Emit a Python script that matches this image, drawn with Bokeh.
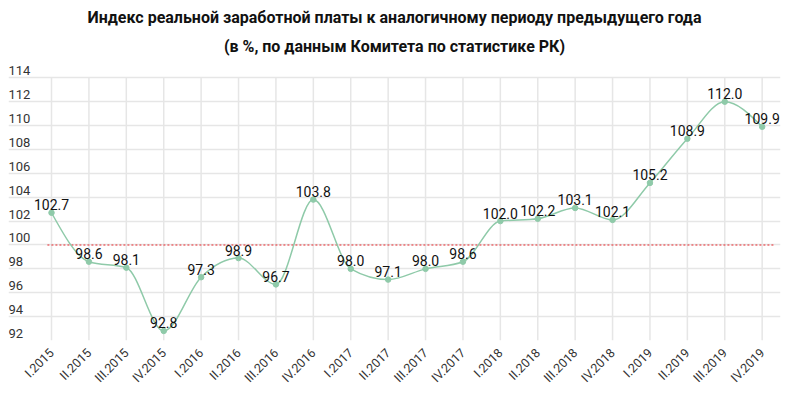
import numpy as np
from bokeh.plotting import figure
from bokeh.models import ColumnDataSource, FixedTicker, LabelSet, Range1d, Title
from bokeh.core.properties import value
from bokeh.embed import file_html
from bokeh.resources import INLINE

categories = ["I.2015", "II.2015", "III.2015", "IV.2015",
              "I.2016", "II.2016", "III.2016", "IV.2016",
              "I.2017", "II.2017", "III.2017", "IV.2017",
              "I.2018", "II.2018", "III.2018", "IV.2018",
              "I.2019", "II.2019", "III.2019", "IV.2019"]
values = [102.7, 98.6, 98.1, 92.8, 97.3, 98.9, 96.7, 103.8,
          98.0, 97.1, 98.0, 98.6, 102.0, 102.2, 103.1, 102.1,
          105.2, 108.9, 112.0, 109.9]
y_ticks = [92, 94, 96, 98, 100, 102, 104, 106, 108, 110, 112, 114]
reference_level = 100
title_line1 = "Индекс реальной заработной платы к аналогичному периоду предыдущего года"
title_line2 = "(в %, по данным Комитета по статистике РК)"

FONT = "Roboto"
LINE_COLOR = "#8fcaa9"
GRID_COLOR = "#e6e6e6"

n = len(categories)
x = np.arange(n, dtype=float)
y = np.array(values, dtype=float)

# monotone-x cubic tangents (d3 curveMonotoneX style)
h = np.diff(x)
s = np.diff(y) / h
t = np.zeros(n)
for i in range(1, n - 1):
    s0, s1 = s[i - 1], s[i]
    p_ = (s0 * h[i] + s1 * h[i - 1]) / (h[i - 1] + h[i])
    t[i] = (np.sign(s0) + np.sign(s1)) * min(abs(s0), abs(s1), 0.5 * abs(p_))
t[0] = (3 * s[0] - t[1]) / 2
t[-1] = (3 * s[-1] - t[-2]) / 2

bez = ColumnDataSource(dict(
    x0=x[:-1], y0=y[:-1], x1=x[1:], y1=y[1:],
    cx0=x[:-1] + h / 3, cy0=y[:-1] + t[:-1] * h / 3,
    cx1=x[1:] - h / 3, cy1=y[1:] - t[1:] * h / 3,
))

src = ColumnDataSource(dict(x=x, y=y, lab=[f"{v:.1f}" for v in values]))

x_start = -1.15
x_end = n - 1 + 0.49

p = figure(width=800, height=393, output_backend="svg", toolbar_location=None,
           x_range=Range1d(x_start, x_end),
           y_range=Range1d(y_ticks[0], y_ticks[-1] + 1.2),
           min_border_left=8, min_border_right=20, min_border_top=63,
           min_border_bottom=50)
p.outline_line_color = None

p.add_layout(Title(text=title_line2, align="center", text_font=FONT,
                   text_font_size="16px", text_font_style="bold",
                   text_color="#111111", standoff=16), "above")
p.add_layout(Title(text=title_line1, align="center", text_font=FONT,
                   text_font_size="16px", text_font_style="bold",
                   text_color="#111111", standoff=0), "above")

# horizontal grid
p.ygrid.ticker = FixedTicker(ticks=y_ticks)
p.ygrid.grid_line_color = GRID_COLOR
p.ygrid.grid_line_width = 1.5
p.xgrid.visible = False

# vertical grid, only between the lowest and highest y tick
p.segment(x0=x, y0=[y_ticks[0]] * n, x1=x, y1=[y_ticks[-1]] * n,
          line_color=GRID_COLOR, line_width=1.5)

# x axis
p.xaxis.ticker = FixedTicker(ticks=list(range(n)))
p.xaxis.major_label_overrides = {i: c for i, c in enumerate(categories)}
p.xaxis.major_label_orientation = np.pi / 4
p.xaxis.axis_line_color = None
p.xaxis.major_tick_line_color = None
p.xaxis.minor_tick_line_color = None
p.xaxis.major_label_text_font = FONT
p.xaxis.major_label_text_font_size = "12.5px"
p.xaxis.major_label_text_color = "#333333"
p.xaxis.major_label_standoff = 4

p.yaxis.visible = False

# y tick labels inside the frame
ysrc = ColumnDataSource(dict(x=[x_start] * len(y_ticks), y=y_ticks,
                             t=[str(v) for v in y_ticks]))
p.add_layout(LabelSet(x="x", y="y", text="t", source=ysrc, y_offset=7,
                      text_align="left", text_baseline="middle",
                      text_font=value(FONT), text_font_size="13px",
                      text_color="#333333"))

# reference line
p.line(x=[x[0] - 0.11, x[-1] + 0.33], y=[reference_level] * 2,
       line_color="#e8262b", line_dash="2 2", line_width=1.2)

# smooth series
p.bezier(x0="x0", y0="y0", x1="x1", y1="y1", cx0="cx0", cy0="cy0",
         cx1="cx1", cy1="cy1", source=bez, line_color=LINE_COLOR, line_width=1.5)
p.scatter(x="x", y="y", source=src, size=5.5, fill_color=LINE_COLOR,
          line_color=LINE_COLOR)
p.text(x="x", y="y", text="lab", source=src, text_align="center",
       text_baseline="middle", y_offset=-8, text_font=value(FONT),
       text_font_size="14px", text_color="#111111")

open("out.html", "w").write(file_html(p, INLINE))
